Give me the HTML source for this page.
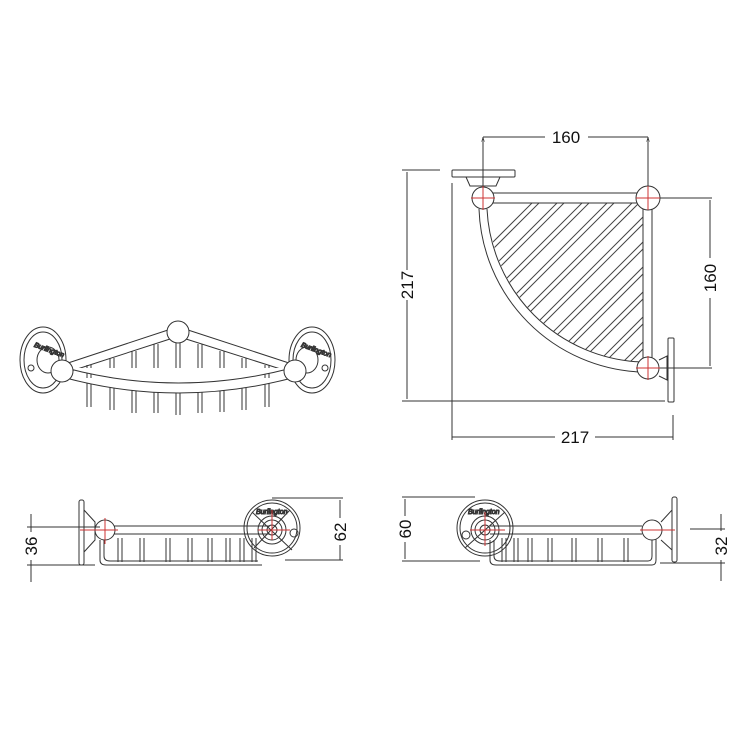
<!DOCTYPE html>
<html><head><meta charset="utf-8"><style>
html,body{margin:0;padding:0;background:#fff;}
svg{display:block}
text{font-family:"Liberation Sans",Arial,sans-serif;font-size:17px;fill:#111}
</style></head><body>
<svg width="750" height="750" viewBox="0 0 750 750" xmlns="http://www.w3.org/2000/svg">
<defs>
<clipPath id="hc"><path d="M490 203 L643 203 L643 362 L648 362 A160 160 0 0 1 488 203 Z"/></clipPath>
<marker id="ar" viewBox="0 0 6 10" refX="3" refY="0" markerWidth="3" markerHeight="6" orient="auto"><path d="M0 10 L3 0 L6 10" fill="none" stroke="#333"/></marker>
</defs>
<g fill="none" stroke="#333" stroke-width="1">
<!-- ===== TOP RIGHT PLAN VIEW ===== -->
<!-- hatching -->
<g clip-path="url(#hc)" stroke="#444">
<path d="M470 290 L570 190 M474 293 L574 193 M470 315 L590 195 M474 318 L594 198 M470 340 L610 200 M474 343 L614 203 M470 365 L640 195 M474 368 L644 198 M480 380 L655 205 M484 383 L659 208 M500 385 L660 225 M504 388 L664 228 M520 390 L660 250 M524 393 L664 253 M545 390 L660 275 M549 393 L664 278 M570 390 L660 300 M574 393 L664 303 M595 390 L660 325 M599 393 L664 328 M620 390 L660 350 M624 393 L664 353 M470 265 L550 185 M474 268 L554 188"/>
</g>
<!-- rails -->
<path d="M492 193 L640 193 M492 203 L640 203"/>
<path d="M643 208 L643 358 M652 208 L652 358"/>
<path d="M487 209 A161 161 0 0 0 640 362"/>
<path d="M479 209 A169 169 0 0 0 640 372"/>
<!-- top wall plate -->
<rect x="452" y="170" width="63" height="7" rx="1"/>
<path d="M466 177 L470 186 L496 186 L500 177"/>
<circle cx="483" cy="198" r="11" fill="#fff"/>
<circle cx="648" cy="198" r="12" fill="#fff"/>
<circle cx="648" cy="368" r="11" fill="#fff"/>
<path d="M659 360 L667 356 L667 380 L659 376"/>
<rect x="668" y="338" width="6" height="64" rx="1"/>
<!-- dims -->
<path d="M483 137 L545 137 M588 137 L648 137" marker-start="url(#ar)" marker-end="url(#ar)"/>
<path d="M483 137 L483 198 M648 137 L648 198"/>
<path d="M407 172 L407 270 M407 300 L407 399" />
<path d="M402 170 L440 170 M402 401 L665 401"/>
<path d="M452 183 L452 440 M673 415 L673 440"/>
<path d="M452 437 L555 437 M595 437 L673 437"/>
<path d="M710 200 L710 258 M710 298 L710 366"/>
<path d="M660 198 L712 198 M660 368 L712 368"/>
<!-- ===== LEFT FRONT VIEW ===== -->
<ellipse cx="43" cy="360" rx="23" ry="33"/>
<ellipse cx="43" cy="360" rx="19" ry="28"/>
<ellipse cx="312" cy="360" rx="23" ry="33"/>
<ellipse cx="312" cy="360" rx="19" ry="28"/>
<circle cx="31" cy="368" r="3"/><circle cx="325" cy="368" r="3"/>
<ellipse cx="48" cy="360" rx="11" ry="13"/>
<ellipse cx="307" cy="360" rx="11" ry="13"/>
<!-- bars -->
<g stroke="#333">
<path d="M87 365 V407 M91 365 V407 M110 358 V410 M114 358 V410 M132 351 V413 M136 351 V413 M154 344 V413 M158 344 V413 M176 338 V415 M180 338 V415 M198 344 V413 M202 344 V413 M220 351 V412 M224 351 V412 M242 358 V410 M246 358 V410 M265 365 V407 M269 365 V407"/>
</g>
<path d="M65 364 L168 330 M68 372 L170 339 M188 330 L292 364 M186 339 L290 372"/>
<path d="M66 368 Q178 398 292 368 M66 378 Q178 408 292 378" fill="#fff"/>
<circle cx="178" cy="332" r="11" fill="#fff"/>
<circle cx="62" cy="371" r="11" fill="#fff"/>
<circle cx="295" cy="371" r="11" fill="#fff"/>
<text x="33" y="350" style="font-size:7px;font-style:italic" transform="rotate(20 43 350)">Burlington</text>
<text x="300" y="350" style="font-size:7px;font-style:italic" transform="rotate(20 310 350)">Burlington</text>
<!-- ===== BOTTOM LEFT SIDE VIEW ===== -->
<rect x="79" y="500" width="5" height="65" rx="2"/>
<path d="M84 510 L95 522 L95 540 L84 552"/>
<path d="M108 526 L270 526 M108 534 L270 534"/>
<circle cx="105" cy="530" r="10" fill="#fff"/>
<path d="M100 540 V560 Q100 565 106 565 H262 M104 540 V556 Q104 561 110 561 H258"/>
<path d="M118 538 V562 M122 538 V562 M140 538 V562 M144 538 V562 M166 538 V562 M170 538 V562 M188 538 V562 M192 538 V562 M208 538 V562 M212 538 V562 M226 538 V562 M230 538 V562 M240 538 V562 M244 538 V562 M252 538 V562 M256 538 V562"/>
<circle cx="272" cy="528" r="28"/><circle cx="272" cy="528" r="25"/>
<circle cx="272" cy="530" r="14"/><circle cx="272" cy="530" r="10"/><circle cx="272" cy="530" r="5"/>
<circle cx="294" cy="533" r="4"/>
<path d="M252 512 L292 550 M254 548 L290 510"/>
<text x="256" y="514" style="font-size:7px;font-style:italic">Burlington</text>
<path d="M31 514 L31 532 M31 560 L31 582" />
<path d="M27 527 L100 527 M27 565 L95 565"/>
<path d="M340 500 L340 518 M340 545 L340 560"/>
<path d="M272 498 L343 498 M285 560 L343 560"/>
<!-- ===== BOTTOM RIGHT SIDE VIEW ===== -->
<circle cx="485" cy="528" r="28"/><circle cx="485" cy="528" r="25"/>
<circle cx="485" cy="530" r="14"/><circle cx="485" cy="530" r="10"/><circle cx="485" cy="530" r="5"/>
<circle cx="466" cy="535" r="4"/>
<path d="M465 548 L505 512"/>
<text x="468" y="514" style="font-size:7px;font-style:italic">Burlington</text>
<path d="M490 526 L642 526 M490 534 L642 534"/>
<path d="M490 540 V560 Q490 565 496 565 H652 Q656 565 656 560 V538 M494 540 V556 Q494 561 500 561 H648 Q652 561 652 556 V540"/>
<path d="M502 538 V562 M506 538 V562 M514 538 V562 M518 538 V562 M528 538 V562 M532 538 V562 M548 538 V562 M552 538 V562 M572 538 V562 M576 538 V562 M598 538 V562 M602 538 V562 M624 538 V562 M628 538 V562"/>
<circle cx="652" cy="530" r="10" fill="#fff"/>
<path d="M661 522 L672 510 L672 550 L661 540"/>
<rect x="672" y="497" width="5" height="65" rx="2"/>
<path d="M405 499 L405 516 M405 542 L405 559"/>
<path d="M402 497 L475 497 M402 561 L480 561"/>
<path d="M721 514 L721 531 M721 560 L721 581"/>
<path d="M690 529 L725 529 M660 563 L725 563"/>
</g>
<!-- red centre lines -->
<g stroke="#c33" stroke-width="1" fill="none">
<path d="M471 198 H495 M483 186 V210 M636 198 H660 M648 186 V210 M636 368 H660 M648 356 V380"/>
<path d="M80 530 H118 M105 518 V544 M258 530 H290 M272 510 V540"/>
<path d="M470 530 H505 M485 512 V546 M640 530 H675"/>
</g>
<text x="566" y="143" text-anchor="middle">160</text>
<text x="575" y="443" text-anchor="middle">217</text>
<text transform="translate(413 285) rotate(-90)" text-anchor="middle">217</text>
<text transform="translate(716 278) rotate(-90)" text-anchor="middle">160</text>
<text transform="translate(37 546) rotate(-90)" text-anchor="middle">36</text>
<text transform="translate(346 532) rotate(-90)" text-anchor="middle">62</text>
<text transform="translate(411 529) rotate(-90)" text-anchor="middle">60</text>
<text transform="translate(727 546) rotate(-90)" text-anchor="middle">32</text>
</svg>
</body></html>
